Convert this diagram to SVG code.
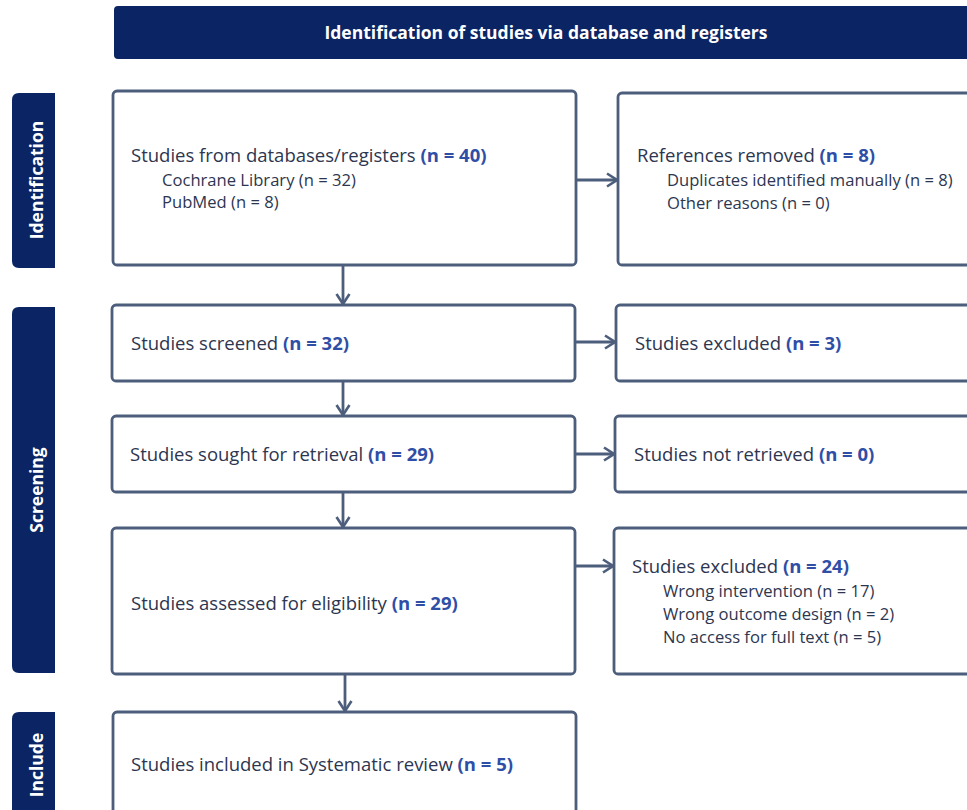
<svg xmlns="http://www.w3.org/2000/svg" width="967" height="810" viewBox="0 0 967 810">
<style>
.bg{fill:#ffffff}
.band{fill:#0b2463}
.box{fill:#ffffff;stroke:#4d5e7c;stroke-width:2.8}
.title{font-family:"Open Sans",Lato,sans-serif;font-weight:bold;font-size:17.5px;fill:#ffffff}
.side{font-family:"Open Sans",Lato,sans-serif;font-weight:bold;font-size:17.5px;fill:#ffffff}
.main{font-family:"Open Sans",Lato,sans-serif;font-size:18.5px;fill:#2d3650}
.sub{font-family:"Open Sans",Lato,sans-serif;font-size:16.6px;fill:#2d3650}
.n{font-weight:bold;fill:#2f4ea6}
.conn{stroke:#4d5e7c;stroke-width:2.8;fill:none}
</style>
<defs>
<marker id="arr" markerUnits="userSpaceOnUse" viewBox="0 0 12 16" refX="11" refY="8" markerWidth="12" markerHeight="16" orient="auto">
<path d="M1,1.5 L11,8 L1,14.5" fill="none" stroke="#4d5e7c" stroke-width="2.6"/>
</marker>
</defs>
<rect class="bg" x="0" y="0" width="967" height="810"/>

<g id="header">
<path class="band" d="M118,6 H967 V59 H118 Q114,59 114,55 V10 Q114,6 118,6 Z"/>
<text class="title" x="546" y="38.5" text-anchor="middle">Identification of studies via database and registers</text>
</g>

<g id="side-identification">
<path class="band" d="M55,93 H19 Q12,93 12,100 V261 Q12,268 19,268 H55 Z"/>
<text class="side" transform="translate(43,180) rotate(-90)" text-anchor="middle">Identification</text>
</g>
<g id="side-screening">
<path class="band" d="M55,307 H19 Q12,307 12,314 V666 Q12,673 19,673 H55 Z"/>
<text class="side" transform="translate(43,490) rotate(-90)" text-anchor="middle">Screening</text>
</g>
<g id="side-include">
<path class="band" d="M55,712 H19 Q12,712 12,719 V830 H55 Z"/>
<text class="side" transform="translate(43,765) rotate(-90)" text-anchor="middle">Include</text>
</g>

<g id="node-databases">
<rect class="box" x="113" y="91" width="463" height="174" rx="4"/>
<text class="main" x="131" y="162">Studies from databases/registers <tspan class="n">(n = 40)</tspan></text>
<text class="sub" x="162" y="186">Cochrane Library (n = 32)</text>
<text class="sub" x="162" y="208">PubMed (n = 8)</text>
</g>
<g id="node-removed">
<rect class="box" x="618" y="93" width="360" height="172" rx="4"/>
<text class="main" x="637" y="162">References removed <tspan class="n">(n = 8)</tspan></text>
<text class="sub" x="667" y="186">Duplicates identified manually (n = 8)</text>
<text class="sub" x="667" y="209">Other reasons (n = 0)</text>
</g>
<g id="node-screened">
<rect class="box" x="112" y="305" width="463" height="76" rx="4"/>
<text class="main" x="131" y="350">Studies screened <tspan class="n">(n = 32)</tspan></text>
</g>
<g id="node-excluded1">
<rect class="box" x="616" y="305" width="362" height="76" rx="4"/>
<text class="main" x="635" y="350">Studies excluded <tspan class="n">(n = 3)</tspan></text>
</g>
<g id="node-sought">
<rect class="box" x="112" y="416" width="463" height="76" rx="4"/>
<text class="main" x="130" y="461">Studies sought for retrieval <tspan class="n">(n = 29)</tspan></text>
</g>
<g id="node-notretrieved">
<rect class="box" x="615" y="416" width="363" height="76" rx="4"/>
<text class="main" x="634" y="461">Studies not retrieved <tspan class="n">(n = 0)</tspan></text>
</g>
<g id="node-assessed">
<rect class="box" x="112" y="528" width="463" height="146" rx="4"/>
<text class="main" x="131" y="610">Studies assessed for eligibility <tspan class="n">(n = 29)</tspan></text>
</g>
<g id="node-excluded2">
<rect class="box" x="614" y="528" width="364" height="146" rx="4"/>
<text class="main" x="632" y="573">Studies excluded <tspan class="n">(n = 24)</tspan></text>
<text class="sub" x="663" y="597">Wrong intervention (n = 17)</text>
<text class="sub" x="663" y="620">Wrong outcome design (n = 2)</text>
<text class="sub" x="663" y="643">No access for full text (n = 5)</text>
</g>
<g id="node-included">
<rect class="box" x="113" y="712" width="463" height="120" rx="4"/>
<text class="main" x="131" y="771">Studies included in Systematic review <tspan class="n">(n = 5)</tspan></text>
</g>

<g id="connectors">
<line class="conn" x1="576" y1="180" x2="617" y2="180" marker-end="url(#arr)"/>
<line class="conn" x1="343" y1="265" x2="343" y2="304" marker-end="url(#arr)"/>
<line class="conn" x1="575" y1="342" x2="615" y2="342" marker-end="url(#arr)"/>
<line class="conn" x1="343" y1="381" x2="343" y2="415" marker-end="url(#arr)"/>
<line class="conn" x1="575" y1="454" x2="614" y2="454" marker-end="url(#arr)"/>
<line class="conn" x1="343" y1="492" x2="343" y2="527" marker-end="url(#arr)"/>
<line class="conn" x1="575" y1="566" x2="613" y2="566" marker-end="url(#arr)"/>
<line class="conn" x1="345" y1="674" x2="345" y2="711" marker-end="url(#arr)"/>
</g>
</svg>
